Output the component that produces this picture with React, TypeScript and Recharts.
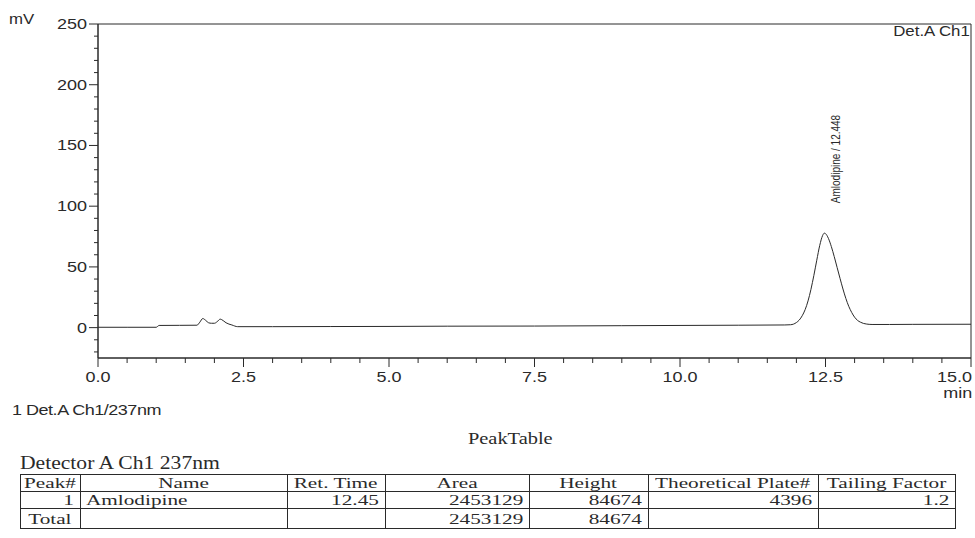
import React from 'react';
import {
  LineChart, Line, XAxis, YAxis, ReferenceArea, ReferenceDot,
} from 'recharts';

// retention time (min) and detector signal (mV)
const times = [
  0.0, 0.5, 1.0, 1.05, 1.4, 1.7, 1.75, 1.8, 1.85, 1.9, 1.95, 2.0, 2.05, 2.1, 2.15, 2.2, 2.3, 2.4,
  3.0, 4.0, 5.0, 6.0, 7.5, 9.0, 10.0, 11.0, 11.8, 11.9, 11.95, 12.0, 12.05, 12.1, 12.15, 12.2,
  12.25, 12.3, 12.35, 12.4, 12.45, 12.48, 12.5, 12.55, 12.6, 12.65, 12.7, 12.75, 12.8, 12.85,
  12.9, 12.95, 13.0, 13.05, 13.1, 13.15, 13.2, 13.3, 13.6, 14.0, 15.0,
];
const signal = [
  0.3, 0.3, 0.3, 1.8, 1.9, 2.0, 4.5, 7.5, 6.0, 4.0, 3.6, 3.6, 5.0, 7.0, 5.8, 4.0, 2.2, 0.8,
  0.8, 0.9, 1.0, 1.2, 1.3, 1.6, 1.8, 2.0, 2.2, 2.4, 2.9, 4.2, 6.3, 9.8, 14.8, 22.0,
  31.5, 43.0, 55.5, 67.5, 75.8, 77.8, 77.4, 73.5, 66.8, 58.5, 49.5, 40.5, 31.8, 24.0,
  17.5, 12.5, 8.6, 6.0, 4.5, 3.5, 3.0, 2.6, 2.6, 2.7, 2.8,
];

const xTicks = [
  0, 0.5, 1, 1.5, 2, 2.5, 3, 3.5, 4, 4.5, 5, 5.5, 6, 6.5, 7, 7.5, 8, 8.5, 9, 9.5,
  10, 10.5, 11, 11.5, 12, 12.5, 13, 13.5, 14, 14.5, 15,
];
const yTicks = [
  -20, -10, 0, 10, 20, 30, 40, 50, 60, 70, 80, 90, 100, 110, 120, 130, 140, 150,
  160, 170, 180, 190, 200, 210, 220, 230, 240, 250,
];

const peakName = 'Amlodipine';
const peakTime = 12.448;
const peakTop = 77.8;

const tableHeaders = ['Peak#', 'Name', 'Ret. Time', 'Area', 'Height', 'Theoretical Plate#', 'Tailing Factor'];
const tableRow = ['1', 'Amlodipine', '12.45', '2453129', '84674', '4396', '1.2'];
const totalRow = ['Total', '', '', '2453129', '84674', '', ''];
const colWidths = [60, 207, 98, 144, 119, 170, 137];
const rowAlign: Array<'left' | 'right' | 'center'> = ['right', 'left', 'right', 'right', 'right', 'right', 'right'];

const data = times.map((t, i) => ({ t, mv: signal[i] }));

const INK = '#2a2a2a';
const SANS = '"Liberation Sans", Arial, sans-serif';
const SERIF = '"Liberation Serif", "Times New Roman", serif';
const STRETCH = 1.2;

function YTick({ x, y, payload }: any) {
  const major = payload.value % 50 === 0;
  return (
    <g>
      <line x1={x - (major ? 9 : 4)} x2={x} y1={y} y2={y} stroke={INK} />
      {major && (
        <text
          transform={`translate(${x - 11} ${y + 5}) scale(${STRETCH} 1)`}
          textAnchor="end" fontSize={15} fill={INK} fontFamily={SANS}
        >
          {payload.value}
        </text>
      )}
    </g>
  );
}

function XTick({ x, y, payload }: any) {
  const major = payload.value % 2.5 === 0;
  const last = payload.value === 15;
  return (
    <g>
      <line x1={x} x2={x} y1={y} y2={y + (major ? 9 : 5)} stroke={INK} />
      {major && (
        <text
          transform={`translate(${last ? x + 1 : x} ${y + 24}) scale(${STRETCH} 1)`}
          textAnchor={last ? 'end' : 'middle'} fontSize={15} fill={INK} fontFamily={SANS}
        >
          {payload.value.toFixed(1)}
        </text>
      )}
    </g>
  );
}

function PeakLabel({ viewBox }: any) {
  const cx = viewBox.x + viewBox.width / 2 + 18;
  const cy = viewBox.y + viewBox.height / 2 - 30;
  return (
    <text
      transform={`translate(${cx} ${cy}) rotate(-90) scale(1 ${STRETCH})`}
      fontSize={10}
      fill={INK}
      fontFamily={SANS}
    >
      {`${peakName} / ${peakTime.toFixed(3)}`}
    </text>
  );
}

const stretched = (origin: string): React.CSSProperties => ({
  transform: `scaleX(${STRETCH})`, transformOrigin: origin, whiteSpace: 'nowrap',
});

const ORIGIN: Record<string, string> = { left: 'left center', right: 'right center', center: 'center center' };

function Cell({ value, align }: { value: string; align: string }) {
  return (
    <td style={{
      textAlign: align as any, border: `1px solid ${INK}`, padding: '0 6px 0 5px',
      height: 16, lineHeight: '16px', whiteSpace: 'nowrap',
    }}>
      <span style={{ display: 'inline-block', height: 16, lineHeight: '16px', transform: 'scaleX(1.37)', transformOrigin: ORIGIN[align] }}>
        {value}
      </span>
    </td>
  );
}

export default function App() {
  return (
    <div style={{ position: 'absolute', left: 0, top: 0, width: 975, height: 538, background: '#fff', color: INK, fontFamily: SANS, overflow: 'hidden' }}>
      <LineChart width={975} height={400} data={data} margin={{ top: 24, right: 4, left: 0, bottom: 0 }}>
        <XAxis
          dataKey="t"
          type="number"
          domain={[0, 15]}
          ticks={xTicks}
          interval={0}
          height={42}
          stroke={INK}
          tickLine={false}
          tickSize={0}
          tickMargin={0}
          tick={<XTick />}
          allowDataOverflow
        />
        <YAxis
          type="number"
          domain={[-25, 250]}
          ticks={yTicks}
          interval={0}
          width={98}
          stroke={INK}
          tickLine={false}
          tickSize={0}
          tickMargin={0}
          tick={<YTick />}
          allowDataOverflow
        />
        <ReferenceArea x1={0} x2={15} y1={-25} y2={250} fill="none" stroke={INK} strokeWidth={1} ifOverflow="visible" />
        <Line
          dataKey="mv"
          type="monotone"
          stroke={INK}
          strokeWidth={1}
          dot={false}
          isAnimationActive={false}
        />
        <ReferenceDot x={peakTime} y={peakTop} r={0} fill="none" stroke="none" label={<PeakLabel />} />
      </LineChart>

      <div style={{ position: 'absolute', left: 9, top: 11, fontSize: 14, ...stretched('left') }}>mV</div>
      <div style={{ position: 'absolute', right: 5, top: 23, fontSize: 14, ...stretched('right') }}>Det.A Ch1</div>
      <div style={{ position: 'absolute', right: 3, top: 386, fontSize: 15, lineHeight: '14px', ...stretched('right') }}>min</div>
      <div style={{ position: 'absolute', left: 12, top: 401, fontSize: 15, letterSpacing: -0.4, ...stretched('left') }}>1 Det.A Ch1/237nm</div>

      <div style={{ position: 'absolute', left: 0, width: 1020, top: 429, textAlign: 'center', fontFamily: SERIF, fontSize: 17 }}>
        <span style={{ display: 'inline-block', ...stretched('center') }}>PeakTable</span>
      </div>
      <div style={{ position: 'absolute', left: 20, top: 453, fontFamily: SERIF, fontSize: 18, ...stretched('left') }}>Detector A Ch1 237nm</div>
      <table style={{ position: 'absolute', left: 20, top: 474, borderCollapse: 'collapse', fontFamily: SERIF, fontSize: 15.5, tableLayout: 'fixed', width: 935 }}>
        <colgroup>
          {colWidths.map((w, i) => <col key={i} style={{ width: w }} />)}
        </colgroup>
        <tbody>
          <tr>
            {tableHeaders.map((h) => <Cell key={h} value={h} align="center" />)}
          </tr>
          <tr>
            {tableRow.map((v, i) => <Cell key={i} value={v} align={rowAlign[i]} />)}
          </tr>
          <tr>
            {totalRow.map((v, i) => <Cell key={i} value={v} align={i === 0 ? 'center' : rowAlign[i]} />)}
          </tr>
        </tbody>
      </table>
    </div>
  );
}
